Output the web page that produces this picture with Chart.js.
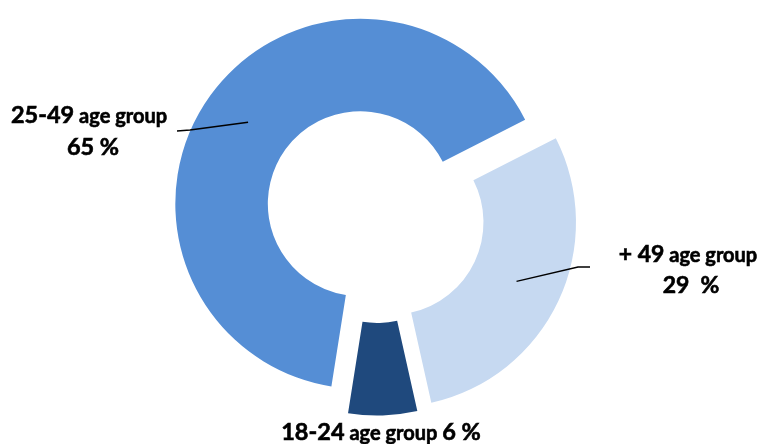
<!DOCTYPE html>
<html>
<head>
<meta charset="utf-8">
<script src="https://cdn.jsdelivr.net/npm/chart.js@4.4.0/dist/chart.umd.min.js"></script>
<style>
  html, body { margin: 0; padding: 0; background: #fff; }
  #wrap { width: 763px; height: 444px; position: relative; }
</style>
</head>
<body>
<div id="wrap"><canvas id="c"></canvas></div>
<script>
// data
const groups = ['25-49', '+ 49', '18-24'];
const shares = [65, 29, 6];
const colors = ['#558ED5', '#C6D9F1', '#1F497D'];

const FONT = 'Lato, "Open Sans", sans-serif';
const BIG = 23.5, SMALL = 20;    // big numbers / "age group"

// pull every slice out along its bisector
const explode = {
  id: 'explode',
  afterUpdate(chart, args, opts) {
    chart.getDatasetMeta(0).data.forEach((arc, i) => {
      const mid = (arc.startAngle + arc.endAngle) / 2;
      arc.x += Math.cos(mid) * opts.dist[i];
      arc.y += Math.sin(mid) * opts.dist[i];
    });
  }
};

// text labels + leader lines
const ageLabels = {
  id: 'ageLabels',
  afterDraw(chart, args, opts) {
    const ctx = chart.ctx;
    const arcs = chart.getDatasetMeta(0).data;
    ctx.save();
    ctx.strokeStyle = '#000';
    ctx.lineWidth = 1.5;
    opts.leaders.forEach(l => {
      const arc = arcs[l.index];
      const mid = (arc.startAngle + arc.endAngle) / 2;
      const rr = (arc.innerRadius + arc.outerRadius) / 2;
      ctx.beginPath();
      ctx.moveTo(arc.x + Math.cos(mid) * rr, arc.y + Math.sin(mid) * rr);
      l.path.forEach(p => ctx.lineTo(p[0], p[1]));
      ctx.stroke();
    });

    ctx.fillStyle = '#000';
    ctx.lineWidth = 0.6;
    ctx.textBaseline = 'alphabetic';
    opts.lines.forEach(line => {
      let w = 0;
      line.runs.forEach(r => { ctx.font = `bold ${r[1]}px ${FONT}`; w += ctx.measureText(r[0]).width; });
      let x = line.x - w / 2;
      line.runs.forEach(r => {
        ctx.font = `bold ${r[1]}px ${FONT}`;
        ctx.fillText(r[0], x, line.y);
        ctx.strokeText(r[0], x, line.y);
        x += ctx.measureText(r[0]).width;
      });
    });
    ctx.restore();
  }
};

new Chart(document.getElementById('c'), {
  type: 'doughnut',
  data: {
    labels: groups,
    datasets: [{ data: shares, backgroundColor: colors, borderWidth: 0, hoverOffset: 0 }]
  },
  options: {
    responsive: true, maintainAspectRatio: false,
    animation: false,
    events: [],
    rotation: 189,
    radius: 185,
    cutout: '50%',
    layout: { padding: { left: 0, right: 10, top: 0, bottom: 13 } },
    plugins: {
      legend: { display: false },
      tooltip: { enabled: false },
      explode: { dist: [20, 16, 15] },
      ageLabels: {
        leaders: [
          { index: 0, path: [[190, 130], [177, 131]] },
          { index: 1, path: [[578, 267], [590, 267]] },
        ],
        lines: [
          { x: 89, y: 123, runs: [[groups[0], BIG], [' age group', SMALL]] },
          { x: 93, y: 155, runs: [[shares[0] + ' %', BIG]] },
          { x: 688, y: 262, runs: [[groups[1], BIG - 0.5], [' age group', SMALL]] },
          { x: 691, y: 293, runs: [[shares[1] + '  %', BIG - 0.5]] },
          { x: 381, y: 440, runs: [[groups[2], BIG], [' age group ', SMALL], [shares[2] + ' %', BIG]] },
        ]
      }
    }
  },
  plugins: [explode, ageLabels]
});
</script>
</body>
</html>
